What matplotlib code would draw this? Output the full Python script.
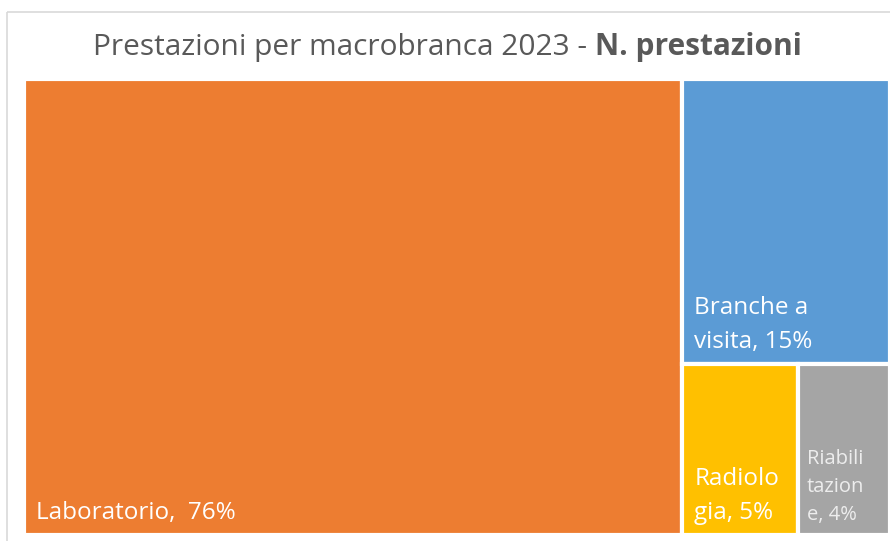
import matplotlib
matplotlib.use("Agg")
import matplotlib.pyplot as plt
from matplotlib.patches import Rectangle

# dati
categorie = ["Laboratorio", "Branche a visita", "Radiologia", "Riabilitazione"]
etichette = ["Laboratorio,  76%", "Branche a\nvisita, 15%", "Radiolo\ngia, 5%", "Riabili\ntazion\ne, 4%"]
valori = [76, 15, 5, 4]
colori = ["#ED7D31", "#5B9BD5", "#FFC000", "#A5A5A5"]

W, H = 890, 541
# area del treemap in pixel
X0, Y0, AW, AH = 24, 79, 866, 456


def layout(vals, x, y, w, h):
    # primo blocco verticale, secondo orizzontale in alto, il resto in riga sotto
    tot = sum(vals)
    rects = []
    w1 = w * vals[0] / tot
    rects.append((x, y, w1, h))
    rx, rw = x + w1, w - w1
    rest = sum(vals[1:])
    h2 = h * vals[1] / rest
    rects.append((rx, y, rw, h2))
    low = sum(vals[2:])
    cx = rx
    for v in vals[2:]:
        cw = rw * v / low
        rects.append((cx, y + h2, cw, h - h2))
        cx += cw
    return rects


fig = plt.figure(figsize=(W / 100, H / 100), dpi=100)
ax = fig.add_axes([0, 0, 1, 1])
ax.set_xlim(0, W)
ax.set_ylim(H, 0)
ax.axis("off")

# cornice del grafico
ax.add_patch(Rectangle((7, 12), W, H, fill=False, edgecolor="#D9D9D9", lw=1.2))

rects = layout(valori, X0, Y0, AW, AH)
for (x, y, w, h), col, lab, v in zip(rects, colori, etichette, valori):
    ax.add_patch(Rectangle((x, y), w, h, facecolor=col, edgecolor="white", lw=3))
    small = v < 5
    ax.text(x + (9 if small else 12), y + h - 10, lab,
            ha="left", va="bottom", color="#EDEDED" if small else "white",
            fontsize=14.5 if small else 17.5, family="Open Sans",
            linespacing=1.55)

ax.text(595, 47, "Prestazioni per macrobranca 2023 - ", ha="right", va="center",
        fontsize=21.5, color="#595959", family="Open Sans")
ax.text(595, 47, "N. prestazioni", ha="left", va="center",
        fontsize=21.5, color="#595959", family="Open Sans", fontweight="bold")

fig.savefig("out.png", dpi=100)
